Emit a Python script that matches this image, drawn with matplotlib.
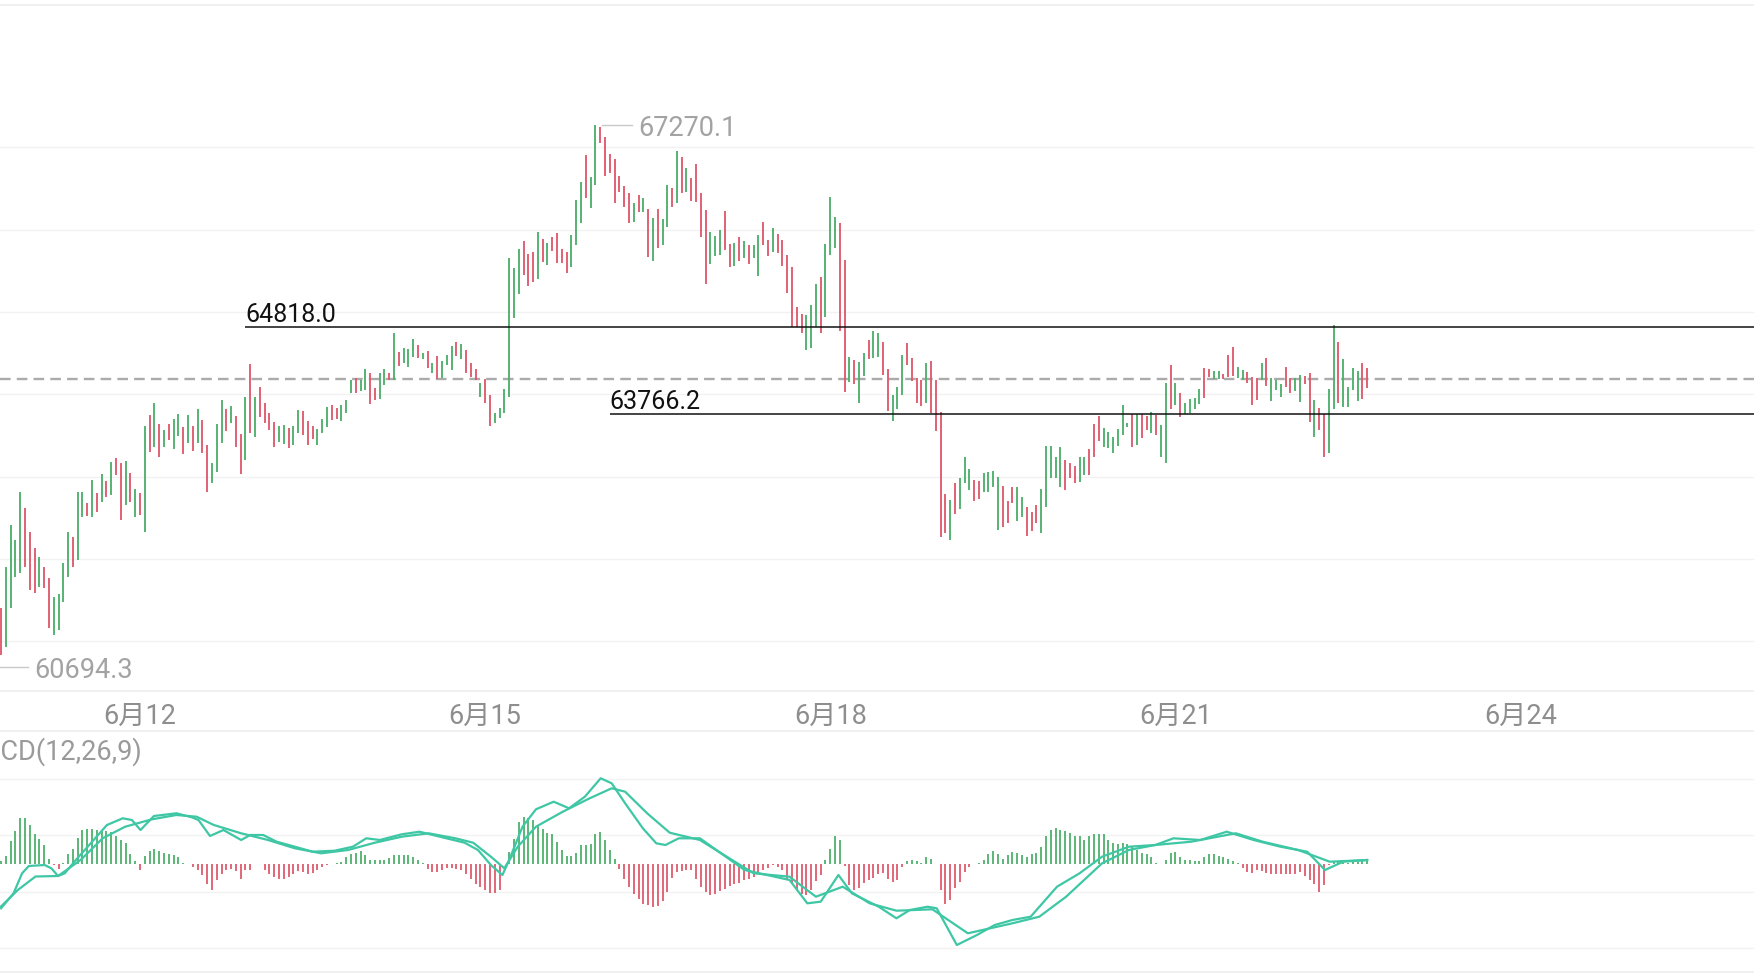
import numpy as np
import matplotlib.pyplot as plt
from matplotlib.lines import Line2D
from matplotlib.transforms import blended_transform_factory

# 1h bars, x = bar index (bars -2 and -1 sit just left of the visible area)
highs = [
    61300, 61450,
    61402, 61908, 62414, 62232, 62819, 62616, 62333, 62131, 62030, 61908,
    61767, 61544, 61576, 61949, 62333, 62272, 62819, 62819, 62685, 62960,
    62807, 63033, 62952, 63175, 63223, 63163, 63195, 63049, 62847, 62807,
    63616, 63750, 63899, 63636, 63567, 63636, 63697, 63762, 63608, 63750,
    63616, 63818, 63689, 63385, 63163, 63636, 63932, 63818, 63859, 63737,
    63515, 63972, 64365, 63964, 64094, 63899, 63778, 63669, 63620, 63628,
    63587, 63616, 63810, 63802, 63680, 63616, 63575, 63701, 63851, 63871,
    63830, 63871, 63931, 64174, 64195, 64174, 64304, 64263, 64081, 64255,
    64304, 64263, 64749, 64518, 64559, 64547, 64676, 64599, 64506, 64530,
    64385, 64466, 64409, 64478, 64587, 64632, 64611, 64539, 64377, 64308,
    64134, 64182, 63992, 63778, 63830, 64065, 65651, 65530, 65761, 65862,
    65700, 65732, 65967, 65886, 65842, 65915, 65963, 65761, 65732, 65935,
    66360, 66582, 66906, 66643, 67270.1, 67250, 67120, 66914, 66853, 66651,
    66530, 66441, 66327, 66420, 66380, 66246, 66137, 66250, 66125, 66542,
    66501, 66959, 66886, 66752, 66623, 66797, 66441, 66238, 65975, 65923,
    65995, 66230, 65821, 65833, 65914, 65862, 65813, 65813, 65935, 66097,
    65874, 66016, 65943, 65874, 65692, 65550, 65065, 64972, 64964, 65085,
    65340, 65421, 65821, 66400, 66157, 66080, 65631, 64458, 64417, 64397,
    64498, 64660, 64773, 64741, 64640, 64304, 63992, 64093, 64478, 64620,
    64437, 64195, 64174, 64385, 64409, 64174, 63790, 62790, 62718, 62920,
    62981, 63236, 63090, 62960, 62952, 63049, 63062, 63074, 63001, 62888,
    62709, 62880, 62880, 62750, 62628, 62576, 62657, 62851, 63373, 63373,
    63236, 63357, 63203, 63171, 63130, 63244, 63244, 63333, 63640, 63737,
    63588, 63547, 63486, 63576, 63871, 63656, 63762, 63762, 63762, 63737,
    63790, 63750, 63628, 64142, 64357, 64134, 64013, 63899, 63940, 63952,
    64061, 64316, 64304, 64288, 64288, 64247, 64478, 64571, 64336, 64296,
    64276, 64207, 64195, 64385, 64437, 64195, 64174, 64126, 64328, 64195,
    64195, 64235, 64223, 64255, 63932, 63830, 63762, 64061, 64842, 64640,
    64425, 64085, 64316, 64288, 64385, 64316,
]
lows = [
    60694.3, 60760,
    60836, 60937, 61402, 61787, 61827, 61908, 61625, 61584, 61665, 61645,
    61160, 61079, 61139, 61483, 61787, 61908, 61989, 62515, 62523, 62515,
    62576, 62697, 62758, 62778, 63021, 62475, 62657, 62697, 62515, 62535,
    62333, 63304, 63365, 63244, 63365, 63446, 63333, 63495, 63272, 63406,
    63312, 63406, 63292, 62819, 62928, 63062, 63406, 63555, 63656, 63357,
    63029, 63203, 63527, 63486, 63729, 63648, 63567, 63365, 63426, 63400,
    63350, 63380, 63527, 63507, 63390, 63454, 63380, 63527, 63608, 63689,
    63697, 63681, 63770, 64012, 64020, 64045, 64053, 63883, 63931, 63939,
    64114, 64174, 64174, 64348, 64377, 64336, 64458, 64437, 64425, 64316,
    64263, 64182, 64195, 64356, 64296, 64466, 64425, 64263, 64215, 64174,
    63972, 63899, 63620, 63656, 63709, 63770, 63972, 64923, 65218, 65449,
    65316, 65368, 65397, 65611, 65571, 65740, 65599, 65591, 65477, 65550,
    65813, 66076, 66380, 66258, 66542, 67056, 66651, 66691, 66327, 66461,
    66279, 66076, 66097, 66218, 66218, 65664, 65623, 65773, 65813, 66036,
    66279, 66319, 66449, 66461, 66352, 66339, 65914, 65340, 65583, 65684,
    65692, 65753, 65542, 65558, 65623, 65651, 65583, 65651, 65441, 65813,
    65680, 65732, 65720, 65558, 65226, 64822, 64822, 64749, 64538, 64559,
    64822, 64741, 64943, 65692, 65773, 64773, 64032, 64154, 64126, 63891,
    64223, 64425, 64437, 64458, 64235, 63798, 63681, 63818, 63992, 64357,
    64162, 63891, 63859, 63899, 63770, 63559, 62272, 62321, 62232, 62547,
    62604, 62920, 62839, 62709, 62726, 62819, 62819, 62871, 62353, 62386,
    62434, 62685, 62467, 62515, 62280, 62345, 62434, 62321, 62637, 62981,
    62981, 62879, 62839, 62981, 62920, 62940, 63021, 63021, 63236, 63438,
    63365, 63345, 63292, 63373, 63507, 63600, 63357, 63385, 63466, 63567,
    63535, 63507, 63244, 63163, 63818, 63871, 63721, 63762, 63770, 63818,
    63883, 63952, 64215, 64183, 64183, 64183, 64215, 64223, 64195, 64174,
    64142, 63871, 63932, 64174, 64102, 63924, 64053, 63972, 64093, 64021,
    64045, 63911, 64126, 63669, 63478, 63567, 63236, 63292, 63818, 63891,
    63851, 63843, 64053, 63924, 63940, 64073,
]
# g = up bar, r = down bar
ups = ("rg"
       "rgggg rrrgr rgggg rggrg rgrgr rgrgr grgrg rggrg rgrrg ggrgr"
       "rgrgr rrrgg rggrr rgggr rgggr ggrrg grgrg ggrgr grggg rgrrr"
       "grrgg ggggr rrgrg rrrrg ggrgg rrrrr rrgrg rgrgg rgrgr rrrgg"
       "grrgr grggr rgrrr rrrgg grggg rrgrg grggr rgggr rrrgr rrrgr"
       "gggrr ggggr rrggr rrggg ggrrr ggrrr ggggg grgrr grggr grggg"
       "grrgg rrrgg rrrgr gggrr ggrrg rrgg rgggg rrgrg gggr rgrrr rrggr"
       "rggrgg").replace(" ", "")
last_price = 64186.6

rays = [(64818.0, 51), (63766.2, 127)]          # level, first bar
date_pos = [29, 101, 173, 245, 317]
date_lbl = ["6月12", "6月15", "6月18", "6月21", "6月24"]

# MACD(12,26,9) (arbitrary units)
hist = [
    3, 8, 23, 33, 46, 46, 39, 30, 25, 19, 5, -1, -5, 1, 10, 15, 26, 34, 35, 35,
    34, 33, 33, 32, 28, 24, 21, 10, 3, -6, 8, 13, 15, 13, 11, 10, 9, 7, 1, 0,
    -3, -6, -11, -20, -26, -16, -10, -6, -5, -7, -15, -6, -6, 0, 0, -6, -10, -13, -15, -15,
    -13, -10, -7, -8, -10, -9, -6, -3, -1, 0, 1, 2, 7, 10, 11, 13, 9, 4, 4, 4,
    4, 6, 9, 9, 9, 9, 7, 4, 1, -5, -8, -8, -6, -4, -4, -5, -6, -10, -15, -20,
    -23, -26, -29, -29, -26, 0, 12, 25, 42, 47, 46, 44, 39, 35, 31, 30, 22, 14, 8, 8,
    11, 19, 19, 20, 30, 32, 24, 14, 5, -5, -15, -23, -30, -35, -40, -41, -43, -42, -37, -28,
    -14, -8, -7, -6, -6, -15, -23, -28, -31, -30, -27, -25, -22, -20, -19, -16, -15, -13, -10, -6,
    -4, -1, -3, -6, -15, -19, -26, -30, -31, -26, -17, -11, 4, 15, 28, 24, -2, -21, -26, -24,
    -19, -16, -14, -10, -9, -15, -18, -16, -3, 3, 4, 3, 1, 7, 5, 0, -26, -40, -36, -24,
    -18, -8, -3, 0, 1, 4, 10, 13, 10, 5, 9, 12, 11, 9, 7, 10, 11, 17, 28, 34,
    36, 34, 33, 31, 28, 28, 24, 28, 30, 30, 30, 24, 21, 20, 21, 20, 17, 14, 11, 10,
    7, 1, 0, 4, 11, 12, 7, 4, 4, 3, 3, 7, 10, 10, 8, 7, 5, 3, 1, -4,
    -8, -9, -6, -7, -9, -10, -10, -10, -10, -10, -10, -8, -12, -16, -20, -28, -21, -1, 2, 2,
    1, 1, 2, 2, 4, 3,
]
dif_x = [0, 2.6, 4.4, 5.8, 9.1, 10.5, 11.9, 13.3, 15.6, 18.4, 22.1, 25.4, 27.3, 29.1, 31.9,
         36.6, 39.8, 41.2, 43.6, 46.4, 50.1, 52, 54.7, 57.5, 61.3, 65, 69.6, 73.4, 76.2, 79,
         83.6, 87.3, 90.1, 92.9, 96.7, 99.5, 102.2, 104.6, 106, 108.8, 111.6, 115.3, 118.5,
         121.8, 125.1, 127.4, 130.2, 133.9, 136.7, 138.6, 141.4, 145.8, 155.1, 164.5, 168.2,
         171, 174.7, 177.5, 183.1, 186.8, 189.6, 193.3, 195.2, 199.4, 203.6, 207.3, 211,
         214.8, 220.3, 225, 229.7, 235.3, 240.8, 244.6, 250.2, 255.7, 261.3, 266.9, 272.5,
         276.2, 280, 285]
dif_v = [-44.8, -30, -9.8, -2.5, -1.5, -4.8, -12.5, -9.8, 3.5, 18.5, 38.5, 45.2, 43.5, 33.5,
         47.5, 50.2, 46.2, 43.5, 27.5, 33.5, 23.5, 28.5, 28.5, 21.8, 16.8, 11.8, 12.8, 16.8,
         25.2, 23.5, 29.2, 31.8, 28.5, 25.2, 20.8, 13.5, -1.5, -11.5, 3.5, 36.8, 54.2, 61.8,
         55.2, 66.8, 85.2, 80.2, 60.2, 35.2, 20.2, 18.5, 25.2, 25.2, -6.5, -16.5, -39.8, -38.2,
         -11.5, -29.8, -43.2, -54.8, -46.5, -43.2, -44.8, -81.5, -71.5, -61.5, -56.5, -53.2,
         -23.2, -9.8, 6.8, 16.8, 18.5, 25.2, 23.5, 31.8, 23.5, 16.8, 11.8, -6.5, 1.8, 3.5]
dea_x = [0, 3.5, 7.2, 11.9, 16.6, 21.2, 25.9, 31.5, 36.6, 40.8, 44.4, 50.1, 55.7, 61.3, 66.8,
         72.4, 78, 83.6, 89.2, 94.8, 98.5, 102.2, 105, 107.8, 111.6, 117.2, 122.8, 127.4,
         130.2, 134.8, 139.5, 145.8, 151.4, 157, 164.5, 170, 175.6, 181.2, 186.8, 194.3,
         201.7, 211, 216.6, 222.2, 229.7, 235.3, 240.8, 248.3, 257.6, 263.2, 270.6, 277.2, 285]
dea_v = [-43, -26.5, -13, -12.5, 3.5, 25.2, 36.8, 44.2, 48.5, 46.8, 38.5, 30.2, 23.5, 15.2,
         10.2, 13.5, 20.8, 26.8, 30.2, 25.2, 20.8, 6.8, -4.8, 16.8, 36.8, 51.8, 65.2, 75.2,
         71.8, 50.2, 30.8, 23.5, 6.8, -9.8, -13.2, -33.2, -23.2, -39.8, -47.2, -45.8, -69.8,
         -59.8, -53.2, -33.2, 0.2, 13.5, 18.5, 21.8, 30.2, 21.8, 13.5, 1.8, 3.5]
macd_grid = [-84.5, -28.5, 28.5, 84.5]

GREEN, RED, TEAL = "#4fb06c", "#de5b6d", "#3fc7a5"
FONT = ["Roboto", "Noto Sans CJK SC", "DejaVu Sans"]
W, H = 1754, 974


def fy(px):
    return 1 - px / H


fig = plt.figure(figsize=(W / 100, H / 100), dpi=100)
fig.patch.set_facecolor("white")

# ---- price pane
ax = fig.add_axes([0, fy(691), 1, 691 / H])
ax.axis("off")
ax.set_xlim(-0.21, 365.7)
ax.set_ylim(60398.9, 68787.7)

x = np.arange(len(highs)) - 2
cols = [GREEN if c == "g" else RED for c in ups]
for p in range(61000, 68000, 1000):
    ax.axhline(p, color="#f2f2f2", lw=1, zorder=0)
ax.vlines(x, lows, highs, colors=cols, lw=1.35, zorder=2)

ax.axhline(last_price, color="#ababab", lw=1.7, ls=(0, (4.5, 2.6)), zorder=1)
for lvl, start in rays:
    ax.hlines(lvl, start, 400, color="#111111", lw=1.1, zorder=3)
    ax.annotate(f"{lvl:.1f}", (start, lvl), xytext=(0, 3.5), textcoords="offset points",
                ha="left", va="baseline", fontsize=18, color="#111111", family=FONT)

hi_i, lo_i = int(np.argmax(highs)), int(np.argmin(lows))
for i, val in ((hi_i, highs[hi_i]), (lo_i, lows[lo_i])):
    ax.plot([x[i] + 1.3, x[i] + 7.6], [val, val], color="#c9c9c9", lw=1, zorder=3)
    ax.annotate(f"{val:.1f}", (x[i] + 9, val), xytext=(0, -2.4), textcoords="offset points",
                ha="left", va="center", fontsize=19.5, color="#a3a3a3", family=FONT)

trans = blended_transform_factory(ax.transData, fig.transFigure)
for p, lbl in zip(date_pos, date_lbl):
    ax.text(p, fy(716), lbl, transform=trans, ha="center", va="center",
            fontsize=19.5, color="#8e8e8e", family=FONT)

# ---- MACD pane
axm = fig.add_axes([0, 0, 1, 243 / H])
axm.axis("off")
axm.set_xlim(-0.21, 365.7)
axm.set_ylim(-110.5, 132.5)
for g in macd_grid:
    axm.axhline(g, color="#f2f2f2", lw=1, zorder=0)
xm = np.arange(len(hist))
axm.vlines(xm, 0, hist, colors=[GREEN if h > 0 else RED for h in hist], lw=1.3, zorder=1)
axm.plot(dif_x, dif_v, color=TEAL, lw=1.6, zorder=2)
axm.plot(dea_x, dea_v, color=TEAL, lw=1.6, zorder=2)

# the pane title starts left of the visible area, as in the app
fig.text(142 / W, fy(752), "MACD(12,26,9)", ha="right", va="center",
         fontsize=19.5, color="#9a9a9a", family=FONT)

# pane separators
for py in (5, 691, 731, 972):
    fig.add_artist(Line2D([0, 1], [fy(py), fy(py)], color="#eeeeee", lw=1.2))

fig.savefig("out.png", dpi=100, facecolor="white")
